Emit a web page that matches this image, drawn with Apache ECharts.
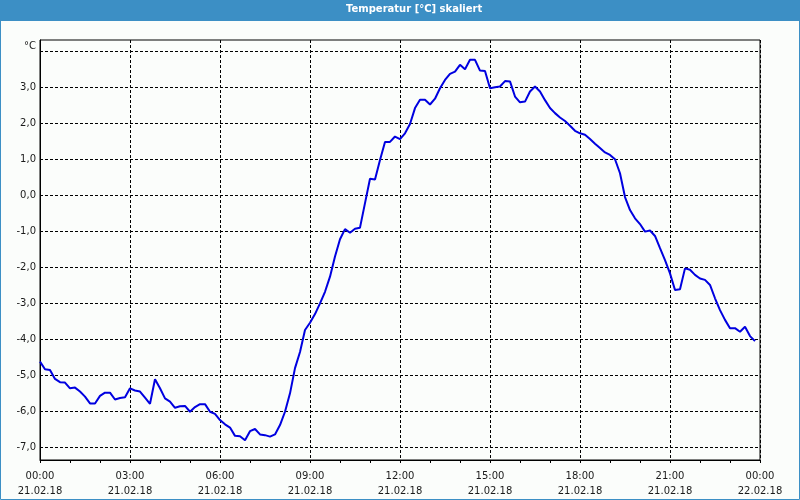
<!DOCTYPE html>
<html>
<head>
<meta charset="utf-8">
<script src="https://cdn.jsdelivr.net/npm/echarts@6/dist/echarts.min.js"></script>
<style>html,body{margin:0;padding:0;background:#fbfdfb}#c{width:800px;height:500px}</style>
</head>
<body>
<div id="c"></div>
<script>
// minutes after 21.02.18 00:00
var times = [0,10,20,30,40,50,60,70,80,90,100,110,120,130,140,150,160,170,180,190,200,210,220,230,240,250,260,270,280,290,300,310,320,330,340,350,360,370,380,390,400,410,420,430,440,450,460,470,480,490,500,510,520,530,540,550,560,570,580,590,600,610,620,630,640,650,660,670,680,690,700,710,720,730,740,750,760,770,780,790,800,810,820,830,840,850,860,870,880,890,900,910,920,930,940,950,960,970,980,990,1000,1010,1020,1030,1040,1050,1060,1070,1080,1090,1100,1110,1120,1130,1140,1150,1160,1170,1180,1190,1200,1210,1220,1230,1240,1250,1260,1270,1280,1290,1300,1310,1320,1330,1340,1350,1360,1370,1380,1390,1400,1410,1420,1430];
var temps = [-4.62,-4.83,-4.85,-5.10,-5.19,-5.20,-5.36,-5.34,-5.45,-5.59,-5.78,-5.78,-5.57,-5.48,-5.48,-5.67,-5.63,-5.61,-5.36,-5.42,-5.45,-5.62,-5.79,-5.11,-5.36,-5.64,-5.73,-5.90,-5.86,-5.85,-6.01,-5.88,-5.80,-5.80,-6.01,-6.07,-6.24,-6.36,-6.45,-6.68,-6.69,-6.80,-6.55,-6.49,-6.64,-6.66,-6.70,-6.64,-6.38,-6.01,-5.50,-4.80,-4.35,-3.74,-3.54,-3.30,-3.00,-2.68,-2.26,-1.70,-1.22,-0.94,-1.04,-0.93,-0.90,-0.22,0.46,0.44,0.98,1.48,1.48,1.63,1.56,1.72,1.98,2.42,2.65,2.65,2.52,2.68,2.97,3.20,3.37,3.43,3.62,3.50,3.76,3.76,3.46,3.45,2.97,3.00,3.02,3.17,3.16,2.74,2.58,2.60,2.88,3.02,2.88,2.64,2.42,2.28,2.16,2.06,1.93,1.79,1.72,1.68,1.56,1.43,1.31,1.19,1.12,1.00,0.61,-0.05,-0.41,-0.64,-0.80,-1.01,-0.98,-1.13,-1.47,-1.80,-2.17,-2.63,-2.61,-2.03,-2.07,-2.21,-2.31,-2.35,-2.49,-2.86,-3.19,-3.46,-3.69,-3.69,-3.79,-3.65,-3.91,-4.05];
var yGridValues = [-7,-6,-5,-4,-3,-2,-1,0,1,2,3,4];
var yLabelValues = [-7,-6,-5,-4,-3,-2,-1,0,1,2,3];
var xDates = ['21.02.18','22.02.18'];

var data = times.map(function(t,i){return [t,temps[i]];});
var FONT = 'DejaVu Sans';
var chart = echarts.init(document.getElementById('c'), null, {renderer:'canvas'});
function pad(n){return (n<10?'0':'')+n;}
chart.setOption({
  backgroundColor:'#fbfdfb',
  animation:false,
  title:{text:'Temperatur [°C] skaliert', left:346, top:4, padding:0,
    textStyle:{color:'#ffffff', fontFamily:FONT, fontSize:10, fontWeight:'bold'}},
  graphic:[
    {type:'rect', z:-10, shape:{x:0,y:0,width:800,height:21}, style:{fill:'#3c8fc5'}, silent:true},
    {type:'rect', z:100, shape:{x:0.5,y:0.5,width:799,height:499}, style:{fill:null, stroke:'#3c8fc5', lineWidth:1}, silent:true}
  ],
  grid:{left:40,right:40,top:40,bottom:40, show:true, borderColor:'#000', borderWidth:1, backgroundColor:'transparent'},
  xAxis:{type:'value', min:0, max:1440, interval:180,
    axisLine:{show:true, onZero:false, lineStyle:{color:'#000', width:1}},
    axisTick:{show:true, length:3, lineStyle:{color:'#000'}},
    minorTick:{show:true, splitNumber:3, length:3, lineStyle:{color:'#000'}},
    splitLine:{show:true, lineStyle:{color:'#000', type:[3,2], width:1}},
    axisLabel:{color:'#1a1a1a', fontFamily:FONT, fontSize:10, margin:9, lineHeight:15,
      formatter:function(v){var d=Math.floor(v/1440); var m=v-d*1440; return pad(Math.floor(m/60))+':'+pad(m%60)+'\n'+xDates[d];}}
  },
  yAxis:{type:'value', min:-7.35, max:4.31,
    name:'°C', nameLocation:'end', nameGap:-6,
    nameTextStyle:{color:'#1a1a1a', fontFamily:FONT, fontSize:10, align:'right', verticalAlign:'middle', padding:[0,4,0,0]},
    axisLine:{show:true, onZero:false, lineStyle:{color:'#000', width:1}},
    axisTick:{show:false, customValues:yGridValues},
    splitLine:{show:true, lineStyle:{color:'#000', type:[3,2], width:1}},
    axisLabel:{color:'#1a1a1a', fontFamily:FONT, fontSize:10, margin:4, customValues:yLabelValues,
      formatter:function(v){return v.toFixed(1).replace('.',',');}}
  },
  series:[{type:'line', data:data, showSymbol:false, symbol:'none',
    lineStyle:{color:'#0000e0', width:2}, clip:true}]
});
</script>
</body>
</html>
